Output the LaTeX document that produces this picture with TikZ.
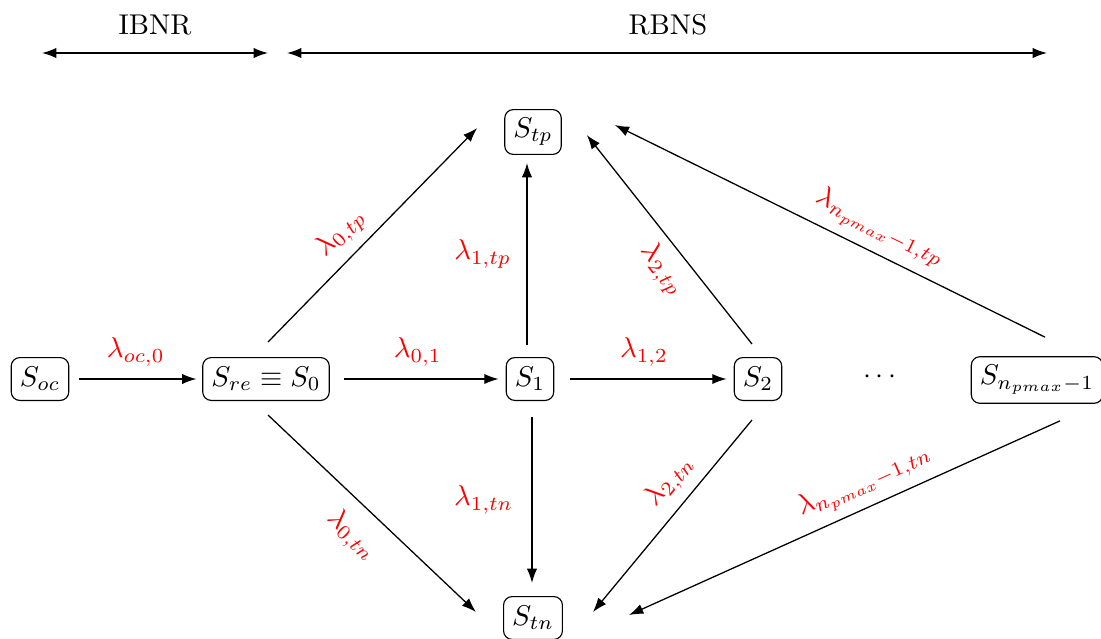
\documentclass[tikz,border=0pt]{standalone}
\usetikzlibrary{calc,arrows.meta}
\begin{document}
\begin{tikzpicture}[x=0.35pt,y=-0.35pt,
  state/.style={draw,rounded corners=3pt,inner sep=3pt,minimum height=15pt},
  lab/.style={text=red,font=\normalsize},
  edge/.style={-{Latex[length=5pt,width=3.6pt]},line width=0.45pt},
  dbl/.style={{Latex[length=5pt,width=3.6pt]}-{Latex[length=5pt,width=3.6pt]},line width=0.5pt}]
\useasboundingbox (0,0) rectangle (1101,639);
% header
\node (ibnr) at (155,25) {IBNR};
\node (rbns) at (668,25) {RBNS};
\coordinate (ia) at (42,53); \coordinate (ib) at (268,53);
\coordinate (ra) at (287,53); \coordinate (rb) at (1047,53);
\draw[dbl] (ia) -- (ib);
\draw[dbl] (ra) -- (rb);
% states
\node[state] (soc) at (40,379) {$S_{oc}$};
\node[state] (sre) at (266,379) {$S_{re}\equiv S_0$};
\node[state] (s1) at (530,379) {$S_1$};
\node[state] (s2) at (758,379) {$S_2$};
\node (dots) at (880,377) {$\cdots$};
\node[state] (sn) at (1037,380) {$S_{n_{pmax}-1}$};
\node[state] (stp) at (533,132) {$S_{tp}$};
\node[state] (stn) at (533,618) {$S_{tn}$};
% horizontal
\draw[edge,shorten <=3.5pt,shorten >=2pt] (soc) -- node[lab,above,yshift=1pt] {$\lambda_{oc,0}$} (sre);
\draw[edge,shorten <=5pt,shorten >=2.5pt] (sre) -- node[lab,above,yshift=1pt] {$\lambda_{0,1}$} (s1);
\draw[edge,shorten <=5.5pt,shorten >=2.5pt] (s1) -- node[lab,above,yshift=1pt] {$\lambda_{1,2}$} (s2);
% diagonals and verticals
\draw[edge] ($(sre.north)+(2,-15)$) -- node[lab,sloped,above,pos=0.43] {$\lambda_{0,tp}$} ($(stp.west)+(-27,-4)$);
\draw[edge] ($(sre.south)+(2,14)$) -- node[lab,sloped,below,pos=0.5,yshift=-2pt] {$\lambda_{0,tn}$} ($(stn.west)+(-27,-6)$);
\draw[edge] ($(s1.north)+(-3,-12)$) -- node[lab,left,pos=0.5,xshift=-2pt] {$\lambda_{1,tp}$} ($(stp.south)+(-6,8)$);
\draw[edge] ($(s1.south)+(2,16)$) -- node[lab,left,pos=0.5,xshift=-3pt] {$\lambda_{1,tn}$} ($(stn.north)+(-1,-13)$);
\draw[edge] ($(s2.north)+(-6,-13)$) -- node[lab,sloped,below,pos=0.43] {$\lambda_{2,tp}$} ($(stp.east)+(25,3)$);
\draw[edge] ($(s2.south)+(-6,19)$) -- node[lab,sloped,above,pos=0.4] {$\lambda_{2,tn}$} ($(stn.east)+(30,-6)$);
\draw[edge] ($(sn.north)+(8,-19)$) -- node[lab,sloped,above,pos=0.41] {$\lambda_{n_{pmax}-1,tp}$} ($(stp.east)+(53,-7)$);
\draw[edge] ($(sn.south)+(23,17)$) -- node[lab,sloped,above,pos=0.43] {$\lambda_{n_{pmax}-1,tn}$} ($(stn.east)+(66,-3)$);
\end{tikzpicture}
\end{document}
